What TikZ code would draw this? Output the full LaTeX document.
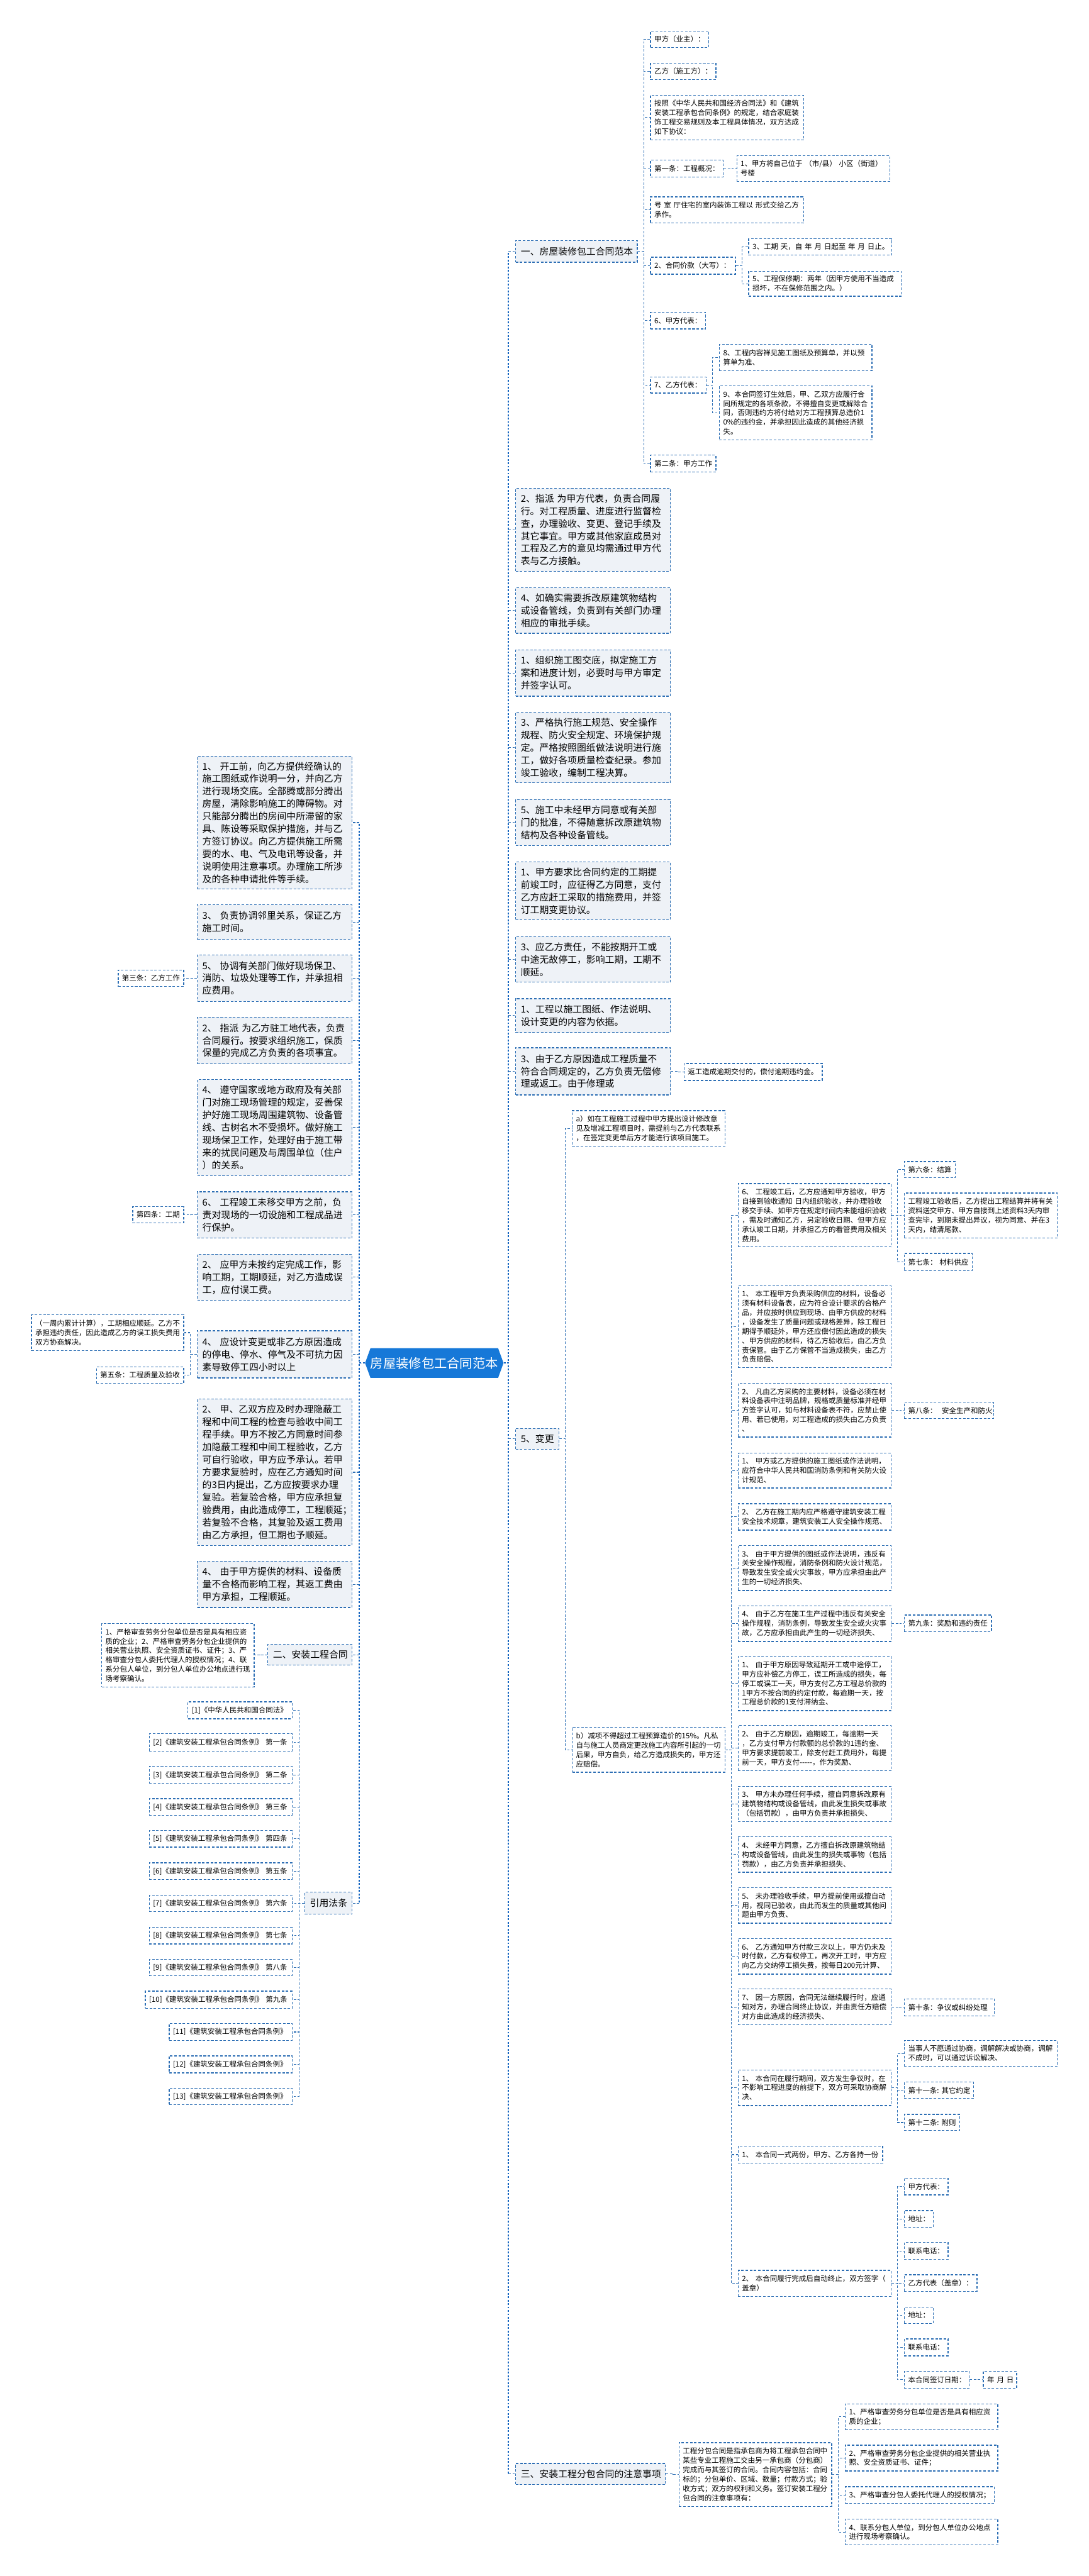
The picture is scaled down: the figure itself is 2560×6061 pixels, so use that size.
\documentclass[tikz,border=0pt]{standalone}
\usepackage{fontspec}
\setmainfont{Noto Sans CJK SC}
\usetikzlibrary{shapes.symbols}
\definecolor{bline}{RGB}{44,110,180}
\definecolor{btrunk}{RGB}{21,101,192}
\definecolor{lfill}{RGB}{238,242,247}
\definecolor{cfill}{RGB}{22,120,216}
\tikzset{
 boxbase/.style={draw=bline, line width=0.55pt, dash pattern=on 1.7pt off 1.1pt, rectangle, inner ysep=0pt, align=left},
 lone/.style={boxbase, fill=lfill, inner xsep=1.2mm, font=\fontsize{6.26pt}{8.39pt}\selectfont},
 ltwo/.style={boxbase, fill=white, inner xsep=0.9mm, font=\fontsize{4.84pt}{6.26pt}\selectfont},
 conn/.style={draw=bline, line width=0.45pt, dash pattern=on 1.6pt off 1.1pt},
 trunk/.style={draw=btrunk, line width=0.85pt, dash pattern=on 1.2pt off 1.1pt},
 rootnode/.style={signal, signal to=east and west, signal pointer angle=140, fill=cfill, draw=none, text=white, inner sep=0pt, font=\fontsize{8.54pt}{10pt}\selectfont}
}
\newcommand\Lone[6]{%
 \pgfmathsetmacro\bxw{(#4-#2)*0.1}\pgfmathsetmacro\bxtw{(#4-#2)*0.1-2.4}%
 \pgfmathsetmacro\bxh{(#5-#3)*0.1}\pgfmathsetmacro\bxcx{(#2+#4)/2}\pgfmathsetmacro\bxcy{(#3+#5)/2}%
 \node[lone, minimum width=\bxw mm, minimum height=\bxh mm, text width=\bxtw mm] (#1) at (\bxcx,\bxcy) {#6};}
\newcommand\Ltwo[6]{%
 \pgfmathsetmacro\bxw{(#4-#2)*0.1}\pgfmathsetmacro\bxtw{(#4-#2)*0.1-1.8}%
 \pgfmathsetmacro\bxh{(#5-#3)*0.1}\pgfmathsetmacro\bxcx{(#2+#4)/2}\pgfmathsetmacro\bxcy{(#3+#5)/2}%
 \node[ltwo, minimum width=\bxw mm, minimum height=\bxh mm, text width=\bxtw mm] (#1) at (\bxcx,\bxcy) {#6};}
\newcommand\rlink[2]{\draw[conn] (#1.east) -| ([xshift=-1.5mm]#2.west) -- (#2.west);}
\newcommand\llink[2]{\draw[conn] (#1.west) -| ([xshift=1.5mm]#2.east) -- (#2.east);}
\begin{document}
\begin{tikzpicture}[x=0.1mm,y=-0.1mm]
\useasboundingbox (0,0) rectangle (2560,6061);
\fill[white] (0,0) rectangle (2560,6061);

% root
\node[rootnode, minimum width=32.5mm, minimum height=7mm] (root) at (1021.5,3207) {房屋装修包工合同范本};

% ---------- right level 1 ----------
\Lone{R0}{1213}{566}{1499}{617}{一、房屋装修包工合同范本}
\Lone{R1}{1213}{1149}{1577}{1344}{2、指派~为甲方代表，负责合同履\\行。对工程质量、进度进行监督检\\查，办理验收、变更、登记手续及\\其它事宜。甲方或其他家庭成员对\\工程及乙方的意见均需通过甲方代\\表与乙方接触。}
\Lone{R2}{1213}{1383}{1577}{1490}{4、如确实需要拆改原建筑物结构\\或设备管线，负责到有关部门办理\\相应的审批手续。}
\Lone{R3}{1213}{1529}{1577}{1638}{1、组织施工图交底，拟定施工方\\案和进度计划，必要时与甲方审定\\并签字认可。}
\Lone{R4}{1213}{1676}{1577}{1842}{3、严格执行施工规范、安全操作\\规程、防火安全规定、环境保护规\\定。严格按照图纸做法说明进行施\\工，做好各项质量检查纪录。参加\\竣工验收，编制工程决算。}
\Lone{R5}{1213}{1881}{1577}{1989}{5、施工中未经甲方同意或有关部\\门的批准，不得随意拆改原建筑物\\结构及各种设备管线。}
\Lone{R6}{1213}{2028}{1577}{2164}{1、甲方要求比合同约定的工期提\\前竣工时，应征得乙方同意，支付\\乙方应赶工采取的措施费用，并签\\订工期变更协议。}
\Lone{R7}{1213}{2204}{1577}{2311}{3、应乙方责任，不能按期开工或\\中途无故停工，影响工期，工期不\\顺延。}
\Lone{R8}{1213}{2350}{1577}{2429}{1、工程以施工图纸、作法说明、\\设计变更的内容为依据。}
\Lone{R9}{1213}{2465}{1577}{2576}{3、由于乙方原因造成工程质量不\\符合合同规定的，乙方负责无偿修\\理或返工。由于修理或}
\Lone{R10}{1213}{3361}{1315}{3410}{5、变更}
\Lone{R11}{1213}{5796}{1565}{5846}{三、安装工程分包合同的注意事项}

% ---------- children of R0 ----------
\Ltwo{a1}{1530}{73}{1667}{112}{甲方（业主）：}
\Ltwo{a2}{1530}{149}{1684}{187}{乙方（施工方）：}
\Ltwo{a3}{1530}{224}{1890}{329}{按照《中华人民共和国经济合同法》和《建筑\\安装工程承包合同条例》的规定，结合家庭装\\饰工程交易规则及本工程具体情况，双方达成\\如下协议：}
\Ltwo{a4}{1530}{377}{1701}{417}{第一条：工程概况：}
\Ltwo{a4c}{1733}{366}{2093}{427}{1、甲方将自己位于~（市/县）~小区（街道）\\号楼}
\Ltwo{a5}{1530}{463}{1890}{525}{号~室~厅住宅的室内装饰工程以~形式交给乙方\\承作。}
\Ltwo{a6}{1530}{605}{1730}{645}{2、合同价款（大写）：}
\Ltwo{a6a}{1761}{562}{2097}{600}{3、工期~天，自~年~月~日起至~年~月~日止。}
\Ltwo{a6b}{1761}{638}{2120}{697}{5、工程保修期：两年（因甲方使用不当造成\\损坏，不在保修范围之内。）}
\Ltwo{a7}{1530}{735}{1660}{774}{6、甲方代表：}
\Ltwo{a8}{1530}{887}{1661}{925}{7、乙方代表：}
\Ltwo{a8a}{1692}{810}{2051}{872}{8、工程内容祥见施工图纸及预算单，并以预\\算单为准、}
\Ltwo{a8b}{1692}{908}{2051}{1035}{9、本合同签订生效后，甲、乙双方应履行合\\同所规定的各项条款，不得擅自变更或解除合\\同，否则违约方将付给对方工程预算总造价1\\0\%的违约金，并承担因此造成的其他经济损\\失。}
\Ltwo{a9}{1530}{1071}{1684}{1111}{第二条：甲方工作}

\Ltwo{r9c}{1609}{2502}{1934}{2542}{返工造成逾期交付的，偿付逾期违约金。}

% ---------- 5、变更 ----------
\Ltwo{va}{1346}{2613}{1705}{2697}{a）如在工程施工过程中甲方提出设计修改意\\见及增减工程项目时，需提前与乙方代表联系\\，在签定变更单后方才能进行该项目施工。}
\Ltwo{vb}{1346}{4064}{1705}{4170}{b）减项不得超过工程预算造价的15\%。凡私\\自与施工人员商定更改施工内容所引起的一切\\后果，甲方自负，给乙方造成损失的，甲方还\\应赔偿。}

\Ltwo{b1}{1736}{2785}{2096}{2934}{6、~工程竣工后，乙方应通知甲方验收，甲方\\自接到验收通知~日内组织验收，并办理验收\\移交手续、如甲方在规定时间内未能组织验收\\，需及时通知乙方，另定验收日期、但甲方应\\承认竣工日期，并承担乙方的看管费用及相关\\费用。}
\Ltwo{b1a}{2127}{2733}{2247}{2771}{第六条：结算}
\Ltwo{b1b}{2127}{2807}{2487}{2913}{工程竣工验收后，乙方提出工程结算并将有关\\资料送交甲方、甲方自接到上述资料3天内审\\查完毕，到期未提出异议，视为同意、并在3\\天内，结清尾款、}
\Ltwo{b1c}{2127}{2949}{2287}{2990}{第七条：~材料供应}
\Ltwo{b2}{1736}{3025}{2096}{3218}{1、~本工程甲方负责采购供应的材料，设备必\\须有材料设备表，应为符合设计要求的合格产\\品，并应按时供应到现场、由甲方供应的材料\\，设备发生了质量问题或规格差异，除工程日\\期得予顺延外，甲方还应偿付因此造成的损失\\、甲方供应的材料，待乙方验收后，由乙方负\\责保管。由于乙方保管不当造成损失，由乙方\\负责赔偿、}
\Ltwo{b3}{1736}{3255}{2096}{3381}{2、~凡由乙方采购的主要材料，设备必须在材\\料设备表中注明品牌，规格或质量标准并经甲\\方签字认可，如与材料设备表不符，应禁止使\\用、若已使用，对工程造成的损失由乙方负责\\、}
\Ltwo{b3a}{2127}{3299}{2337}{3338}{第八条：~~安全生产和防火}
\Ltwo{b4}{1736}{3419}{2096}{3501}{1、~甲方或乙方提供的施工图纸或作法说明，\\应符合中华人民共和国消防条例和有关防火设\\计规范、}
\Ltwo{b5}{1736}{3538}{2096}{3600}{2、~乙方在施工期内应严格遵守建筑安装工程\\安全技术规章，建筑安装工人安全操作规范、}
\Ltwo{b6}{1736}{3636}{2096}{3742}{3、~由于甲方提供的图纸或作法说明，违反有\\关安全操作规程，消防条例和防火设计规范，\\导致发生安全或火灾事故，甲方应承担由此产\\生的一切经济损失、}
\Ltwo{b7}{1736}{3778}{2096}{3862}{4、~由于乙方在施工生产过程中违反有关安全\\操作规程，消防条例，导致发生安全或火灾事\\故，乙方应承担由此产生的一切经济损失、}
\Ltwo{b7a}{2127}{3800}{2332}{3839}{第九条：奖励和违约责任}
\Ltwo{b8}{1736}{3897}{2096}{4025}{1、~由于甲方原因导致延期开工或中途停工，\\甲方应补偿乙方停工，误工所造成的损失，每\\停工或误工一天，甲方支付乙方工程总价款的\\1甲方不按合同的约定付款，每逾期一天，按\\工程总价款的1支付滞纳金、}
\Ltwo{b9}{1736}{4060}{2096}{4166}{2、~由于乙方原因，逾期竣工，每逾期一天\\，乙方支付甲方付款额的总价款的1违约金、\\甲方要求提前竣工，除支付赶工费用外，每提\\前一天，甲方支付{-}{-}{-}{-}{-}，作为奖励、}
\Ltwo{b10}{1736}{4203}{2096}{4286}{3、~甲方未办理任何手续，擅自同意拆改原有\\建筑物结构或设备管线，由此发生损失或事故\\（包括罚款），由甲方负责并承担损失、}
\Ltwo{b11}{1736}{4322}{2096}{4405}{4、~未经甲方同意，乙方擅自拆改原建筑物结\\构或设备管线，由此发生的损失或事物（包括\\罚款），由乙方负责并承担损失、}
\Ltwo{b12}{1736}{4441}{2096}{4525}{5、~未办理验收手续，甲方提前使用或擅自动\\用，视同已验收，由此而发生的质量或其他问\\题由甲方负责、}
\Ltwo{b13}{1736}{4561}{2096}{4645}{6、~乙方通知甲方付款三次以上，甲方仍未及\\时付款，乙方有权停工，再次开工时，甲方应\\向乙方交纳停工损失费，按每日200元计算、}
\Ltwo{b14}{1736}{4680}{2096}{4764}{7、~因一方原因，合同无法继续履行时，应通\\知对方，办理合同终止协议，并由责任方赔偿\\对方由此造成的经济损失、}
\Ltwo{b14a}{2127}{4703}{2339}{4743}{第十条：争议或纠纷处理}
\Ltwo{b15}{1736}{4870}{2096}{4954}{1、~本合同在履行期间，双方发生争议时，在\\不影响工程进度的前提下，双方可采取协商解\\决、}
\Ltwo{b15a}{2127}{4801}{2487}{4862}{当事人不愿通过协商，调解解决或协商，调解\\不成时，可以通过诉讼解决、}
\Ltwo{b15b}{2127}{4899}{2290}{4937}{第十一条:~其它约定}
\Ltwo{b15c}{2127}{4975}{2257}{5013}{第十二条:~附则}
\Ltwo{b16}{1736}{5050}{2076}{5089}{1、~本合同一式两份，甲方、乙方各持一份}
\Ltwo{b17}{1736}{5342}{2096}{5403}{2、~本合同履行完成后自动终止，双方签字（\\盖章）}
\Ltwo{b17a}{2127}{5125}{2230}{5164}{甲方代表：}
\Ltwo{b17b}{2127}{5201}{2195}{5240}{地址：}
\Ltwo{b17c}{2127}{5276}{2230}{5316}{联系电话：}
\Ltwo{b17d}{2127}{5352}{2298}{5391}{乙方代表（盖章）：}
\Ltwo{b17e}{2127}{5428}{2195}{5467}{地址：}
\Ltwo{b17f}{2127}{5503}{2230}{5543}{联系电话：}
\Ltwo{b17g}{2127}{5579}{2280}{5619}{本合同签订日期：}
\Ltwo{b17h}{2313}{5579}{2391}{5619}{年~月~日}

% ---------- 三 ----------
\Ltwo{s0}{1597}{5747}{1956}{5897}{工程分包合同是指承包商为将工程承包合同中\\某些专业工程施工交由另一承包商（分包商）\\完成而与其签订的合同。合同内容包括：合同\\标的；分包单价、区域、数量；付款方式；验\\收方式；双方的权利和义务。签订安装工程分\\包合同的注意事项有：}
\Ltwo{s1}{1988}{5656}{2347}{5717}{1、严格审查劳务分包单位是否是具有相应资\\质的企业；}
\Ltwo{s2}{1988}{5753}{2347}{5814}{2、严格审查劳务分包企业提供的相关营业执\\照、安全资质证书、证件；}
\Ltwo{s3}{1988}{5851}{2339}{5890}{3、严格审查分包人委托代理人的授权情况；}
\Ltwo{s4}{1988}{5927}{2347}{5988}{4、联系分包人单位，到分包人单位办公地点\\进行现场考察确认。}

% ---------- left level 1 ----------
\Lone{L1}{464}{1779}{828}{2092}{1、~开工前，向乙方提供经确认的\\施工图纸或作说明一分，并向乙方\\进行现场交底。全部腾或部分腾出\\房屋，清除影响施工的障碍物。对\\只能部分腾出的房间中所滞留的家\\具、陈设等采取保护措施，并与乙\\方签订协议。向乙方提供施工所需\\要的水、电、气及电讯等设备，并\\说明使用注意事项。办理施工所涉\\及的各种申请批件等手续。}
\Lone{L2}{464}{2129}{828}{2210}{3、~负责协调邻里关系，保证乙方\\施工时间。}
\Lone{L3}{464}{2247}{828}{2356}{5、~协调有关部门做好现场保卫、\\消防、垃圾处理等工作，并承担相\\应费用。}
\Lone{L4}{464}{2393}{828}{2503}{2、~指派~为乙方驻工地代表，负责\\合同履行。按要求组织施工，保质\\保量的完成乙方负责的各项事宜。}
\Lone{L5}{464}{2540}{828}{2766}{4、~遵守国家或地方政府及有关部\\门对施工现场管理的规定，妥善保\\护好施工现场周围建筑物、设备管\\线、古树名木不受损坏。做好施工\\现场保卫工作，处理好由于施工带\\来的扰民问题及与周围单位（住户\\）的关系。}
\Lone{L6}{464}{2804}{828}{2913}{6、~工程竣工未移交甲方之前，负\\责对现场的一切设施和工程成品进\\行保护。}
\Lone{L7}{464}{2951}{828}{3059}{2、~应甲方未按约定完成工作，影\\响工期，工期顺延，对乙方造成误\\工，应付误工费。}
\Lone{L8}{464}{3131}{828}{3242}{4、~应设计变更或非乙方原因造成\\的停电、停水、停气及不可抗力因\\素导致停工四小时以上}
\Lone{L9}{464}{3292}{828}{3636}{2、~甲、乙双方应及时办理隐蔽工\\程和中间工程的检查与验收中间工\\程手续。甲方不按乙方同意时间参\\加隐蔽工程和中间工程验收，乙方\\可自行验收，甲方应予承认。若甲\\方要求复验时，应在乙方通知时间\\的3日内提出，乙方应按要求办理\\复验。若复验合格，甲方应承担复\\验费用，由此造成停工，工程顺延；\\若复验不合格，其复验及返工费用\\由乙方承担，但工期也予顺延。}
\Lone{L10}{464}{3673}{828}{3782}{4、~由于甲方提供的材料、设备质\\量不合格而影响工程，其返工费由\\甲方承担，工程顺延。}
\Lone{L11}{630}{3869}{828}{3918}{二、安装工程合同}
\Lone{L12}{717}{4452}{828}{4504}{引用法条}

\Ltwo{L3c}{278}{2282}{432}{2321}{第三条：乙方工作}
\Ltwo{L6c}{312}{2839}{432}{2877}{第四条：工期}
\Ltwo{L8a}{74}{3093}{432}{3178}{（一周内累计计算），工期相应顺延。乙方不\\承担违约责任，因此造成乙方的误工损失费用\\双方协商解决。}
\Ltwo{L8b}{227}{3216}{432}{3255}{第五条：工程质量及验收}
\Ltwo{L11c}{239}{3820}{598}{3969}{1、严格审查劳务分包单位是否是具有相应资\\质的企业；2、严格审查劳务分包企业提供的\\相关营业执照、安全资质证书、证件；3、严\\格审查分包人委托代理人的授权情况；4、联\\系分包人单位，到分包人单位办公地点进行现\\场考察确认。}

\Ltwo{c1}{442}{4004}{687}{4044}{[1]《中华人民共和国合同法》}
\Ltwo{c2}{351}{4079}{687}{4120}{[2]《建筑安装工程承包合同条例》~第一条}
\Ltwo{c3}{351}{4156}{687}{4196}{[3]《建筑安装工程承包合同条例》~第二条}
\Ltwo{c4}{351}{4232}{687}{4271}{[4]《建筑安装工程承包合同条例》~第三条}
\Ltwo{c5}{351}{4307}{687}{4346}{[5]《建筑安装工程承包合同条例》~第四条}
\Ltwo{c6}{351}{4383}{687}{4422}{[6]《建筑安装工程承包合同条例》~第五条}
\Ltwo{c7}{351}{4459}{687}{4498}{[7]《建筑安装工程承包合同条例》~第六条}
\Ltwo{c8}{351}{4535}{687}{4574}{[8]《建筑安装工程承包合同条例》~第七条}
\Ltwo{c9}{351}{4610}{687}{4649}{[9]《建筑安装工程承包合同条例》~第八条}
\Ltwo{c10}{342}{4685}{687}{4725}{[10]《建筑安装工程承包合同条例》~第九条}
\Ltwo{c11}{398}{4761}{687}{4801}{[11]《建筑安装工程承包合同条例》}
\Ltwo{c12}{398}{4837}{687}{4877}{[12]《建筑安装工程承包合同条例》}
\Ltwo{c13}{398}{4913}{687}{4952}{[13]《建筑安装工程承包合同条例》}

% ---------- connectors ----------
\foreach \c in {R0,R1,R2,R3,R4,R5,R6,R7,R8,R9,R10,R11}{
  \draw[trunk] (root.east) -| ([xshift=-1.6mm]\c.west);
  \draw[conn] ([xshift=-1.6mm]\c.west) -- (\c.west);
}
\foreach \c in {L1,L2,L3,L4,L5,L6,L7,L8,L9,L10,L11,L12}{
  \draw[trunk] (root.west) -| ([xshift=1.6mm]\c.east);
  \draw[conn] ([xshift=1.6mm]\c.east) -- (\c.east);
}
\foreach \c in {a1,a2,a3,a4,a5,a6,a7,a8,a9}{\rlink{R0}{\c}}
\rlink{a4}{a4c}
\rlink{a6}{a6a}\rlink{a6}{a6b}
\rlink{a8}{a8a}\rlink{a8}{a8b}
\rlink{R9}{r9c}
\rlink{R10}{va}\rlink{R10}{vb}
\foreach \c in {b1,b2,b3,b4,b5,b6,b7,b8,b9,b10,b11,b12,b13,b14,b15,b16,b17}{\rlink{vb}{\c}}
\rlink{b1}{b1a}\rlink{b1}{b1b}\rlink{b1}{b1c}
\rlink{b3}{b3a}
\rlink{b7}{b7a}
\rlink{b14}{b14a}
\rlink{b15}{b15a}\rlink{b15}{b15b}\rlink{b15}{b15c}
\foreach \c in {b17a,b17b,b17c,b17d,b17e,b17f,b17g}{\rlink{b17}{\c}}
\rlink{b17g}{b17h}
\rlink{R11}{s0}
\foreach \c in {s1,s2,s3,s4}{\rlink{s0}{\c}}
\llink{L3}{L3c}
\llink{L6}{L6c}
\llink{L8}{L8a}\llink{L8}{L8b}
\llink{L11}{L11c}
\foreach \c in {c1,c2,c3,c4,c5,c6,c7,c8,c9,c10,c11,c12,c13}{\llink{L12}{\c}}
\end{tikzpicture}
\end{document}
